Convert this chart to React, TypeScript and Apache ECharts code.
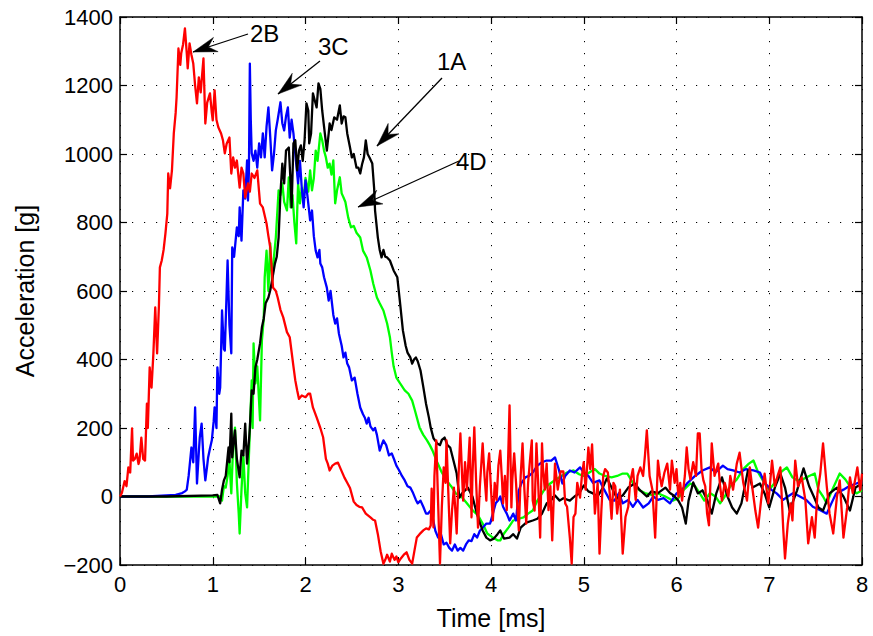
import React, { useEffect, useRef } from "react";
import * as echarts from "echarts";

// ---------- data ----------
const xTicks = [0, 1, 2, 3, 4, 5, 6, 7, 8];
const yTicks = [-200, 0, 200, 400, 600, 800, 1000, 1200, 1400];
const seriesNames = ["1A", "2B", "3C", "4D"];

// 2B (red)
const red2B: number[][] = [
  [0, 0], [0.02, 10], [0.05, 45], [0.07, 30], [0.09, 85], [0.11, 70], [0.13, 199], [0.14, 105], [0.16, 110], [0.18, 125],
  [0.2, 95], [0.21, 105], [0.23, 172], [0.25, 110], [0.27, 105], [0.29, 271], [0.3, 200], [0.32, 377], [0.34, 318], [0.36, 418],
  [0.38, 552], [0.4, 418], [0.42, 560], [0.43, 669], [0.45, 689], [0.47, 720], [0.49, 768], [0.51, 826], [0.52, 943], [0.54, 900],
  [0.56, 952], [0.58, 1060], [0.6, 1120], [0.61, 1165], [0.63, 1308], [0.65, 1260], [0.66, 1294], [0.68, 1320], [0.7, 1367], [0.72, 1294],
  [0.73, 1250], [0.75, 1323], [0.77, 1290], [0.79, 1264], [0.81, 1200], [0.83, 1148], [0.85, 1224], [0.87, 1180], [0.9, 1279], [0.92, 1089],
  [0.94, 1150], [0.97, 1177], [0.99, 1120], [1.0, 1098], [1.02, 1186], [1.04, 1100], [1.06, 1078], [1.09, 1060], [1.11, 1040], [1.13, 1002],
  [1.15, 1030], [1.18, 1048], [1.2, 943], [1.22, 990], [1.24, 960], [1.26, 981], [1.29, 902], [1.31, 960], [1.33, 943], [1.35, 873],
  [1.38, 914], [1.4, 890], [1.42, 943], [1.45, 930], [1.48, 952], [1.51, 855], [1.54, 844], [1.58, 797], [1.6, 760], [1.62, 727],
  [1.65, 610], [1.68, 600], [1.7, 581], [1.73, 545], [1.76, 523], [1.8, 480], [1.83, 465], [1.87, 380], [1.89, 339], [1.91, 310],
  [1.93, 285], [1.96, 295], [2.0, 290], [2.03, 300], [2.05, 300], [2.08, 260], [2.12, 231], [2.16, 200], [2.19, 173], [2.22, 110],
  [2.24, 96], [2.26, 76], [2.29, 90], [2.32, 96], [2.35, 99], [2.38, 80], [2.42, 55], [2.45, 40], [2.48, 25], [2.52, -15],
  [2.55, -25], [2.58, -30], [2.61, -32], [2.65, -50], [2.7, -61], [2.73, -68], [2.75, -70], [2.78, -110], [2.81, -160], [2.84, -196],
  [2.86, -185], [2.88, -170], [2.91, -190], [2.93, -167], [2.96, -185], [2.98, -175], [3.0, -192], [3.03, -180], [3.06, -170], [3.09, -163],
  [3.12, -185], [3.15, -196], [3.18, -150], [3.2, -120], [3.23, -110], [3.27, -99], [3.3, -93], [3.33, -96], [3.35, -85],
  [3.36, 23], [3.38, -90], [3.39, 60], [3.41, 164], [3.43, -20], [3.45, -196], [3.47, -30], [3.49, 85], [3.51, 40], [3.52, 164],
  [3.54, 10], [3.56, -137], [3.58, -40], [3.6, 26], [3.62, -60], [3.63, -108], [3.65, 60], [3.67, 184], [3.69, 50], [3.7, -12],
  [3.72, 100], [3.74, 20], [3.77, 172], [3.79, -61], [3.8, 60], [3.82, 202], [3.84, 40], [3.86, -91], [3.88, 30], [3.91, 155],
  [3.93, 60], [3.95, -12], [3.96, 70], [3.98, 126], [4.0, 20], [4.02, -70], [4.04, 40], [4.06, -10], [4.08, 90], [4.1, 134],
  [4.12, 40], [4.13, -20], [4.15, 60], [4.17, -40], [4.2, 266], [4.22, -32], [4.23, 50], [4.25, 126], [4.27, 40], [4.28, -12],
  [4.3, -99], [4.32, 60], [4.34, 155], [4.36, 20], [4.38, -79], [4.4, 40], [4.42, 105], [4.44, 164], [4.45, -12], [4.47, -41],
  [4.49, 155], [4.51, 30], [4.53, -120], [4.55, 155], [4.56, 85], [4.58, 20], [4.6, 96], [4.62, -40], [4.64, 30], [4.66, -128],
  [4.69, 96], [4.72, 20], [4.75, 73], [4.78, 73], [4.8, -20], [4.82, -30], [4.85, -120], [4.87, -196], [4.89, -60], [4.91, -50],
  [4.93, 40], [4.96, -3], [4.98, 60], [5.0, 100], [5.02, 20], [5.05, 143], [5.07, 80], [5.09, 152], [5.12, -50], [5.15, 40],
  [5.17, -167], [5.19, -40], [5.21, 60], [5.23, 80], [5.26, 70], [5.28, 10], [5.3, -65], [5.32, 40], [5.34, 30], [5.36, -50],
  [5.39, 20], [5.42, -167], [5.45, -60], [5.48, -30], [5.5, 40], [5.53, 80], [5.56, -10], [5.58, 60], [5.61, 85], [5.64, 60],
  [5.66, 120], [5.68, 193], [5.71, 60], [5.74, 20], [5.77, -120], [5.8, 105], [5.82, 60], [5.84, 30], [5.87, 70], [5.9, 96],
  [5.93, 20], [5.95, 105], [5.98, 40], [6.0, 80], [6.02, 0], [6.04, 40], [6.06, -12], [6.09, 60], [6.11, 143], [6.13, 80],
  [6.15, 50], [6.18, 100], [6.21, 60], [6.23, 184], [6.25, 184], [6.27, 80], [6.29, 47], [6.31, 30], [6.33, -50], [6.35, -84],
  [6.38, 155], [6.41, 60], [6.45, 96], [6.47, 30], [6.49, -12], [6.52, 40], [6.56, 0], [6.58, 60], [6.61, 20], [6.65, 96],
  [6.68, 128], [6.72, 40], [6.76, -12], [6.79, 85], [6.82, 20], [6.85, -41], [6.88, -91], [6.92, 9], [6.95, 67], [6.99, -20],
  [7.03, 105], [7.06, 30], [7.09, 60], [7.12, 85], [7.15, -91], [7.17, -181], [7.2, -79], [7.23, -20], [7.25, -70], [7.28, 105],
  [7.31, 30], [7.35, 56], [7.39, -12], [7.42, -137], [7.46, -60], [7.49, -120], [7.52, 10], [7.55, 67], [7.58, 155], [7.62, 30],
  [7.65, -50], [7.69, -108], [7.73, 0], [7.76, 47], [7.8, -120], [7.84, -32], [7.87, 56], [7.9, 10], [7.95, 85], [7.98, 18], [8.0, 67],
];

// 3C (blue)
const blue3C: number[][] = [
  [0, 0], [0.3, 0], [0.5, 3], [0.6, 5], [0.67, 10], [0.7, 15], [0.72, 20], [0.74, 60], [0.77, 143], [0.79, 100],
  [0.81, 260], [0.83, 38], [0.85, 130], [0.86, 172], [0.88, 213], [0.9, 110], [0.92, 47], [0.94, 90], [0.95, 114], [0.97, 140],
  [0.99, 164], [1.01, 220], [1.02, 260], [1.04, 200], [1.05, 377], [1.07, 300], [1.08, 318], [1.1, 543], [1.12, 430], [1.13, 426],
  [1.15, 600], [1.16, 689], [1.18, 500], [1.2, 418], [1.21, 727], [1.23, 700], [1.26, 786], [1.28, 760], [1.29, 844], [1.31, 747],
  [1.33, 894], [1.35, 870], [1.37, 981], [1.38, 864], [1.39, 950], [1.4, 1264], [1.41, 1100], [1.42, 1002], [1.44, 980], [1.46, 1010],
  [1.48, 960], [1.5, 1031], [1.52, 990], [1.54, 1060], [1.56, 990], [1.58, 1080], [1.6, 1136], [1.62, 1050], [1.64, 952], [1.66, 1000],
  [1.68, 1069], [1.7, 1100], [1.73, 1151], [1.75, 1090], [1.77, 1069], [1.79, 1110], [1.81, 1136], [1.83, 1048], [1.85, 1100], [1.87, 1060],
  [1.89, 1000], [1.92, 914], [1.94, 980], [1.96, 900], [1.98, 844], [2.0, 923], [2.02, 880], [2.05, 806], [2.07, 835], [2.09, 760],
  [2.11, 718], [2.13, 698], [2.15, 720], [2.16, 680], [2.18, 669], [2.2, 640], [2.23, 610], [2.25, 572], [2.27, 600], [2.3, 530],
  [2.32, 505], [2.34, 520], [2.36, 476], [2.39, 440], [2.41, 406], [2.43, 420], [2.45, 388], [2.47, 377], [2.5, 339], [2.53, 347],
  [2.56, 300], [2.59, 260], [2.62, 240], [2.64, 230], [2.66, 213], [2.68, 230], [2.7, 205], [2.73, 193], [2.75, 200], [2.77, 180],
  [2.8, 134], [2.82, 150], [2.84, 164], [2.87, 150], [2.9, 120], [2.93, 126], [2.96, 105], [2.98, 90], [3.01, 76], [3.04, 60],
  [3.07, 47], [3.1, 30], [3.13, 26], [3.16, 10], [3.19, -10], [3.21, -20], [3.24, -12], [3.27, -30], [3.3, -50], [3.32, -50],
  [3.35, -41], [3.37, -60], [3.4, -100], [3.43, -120], [3.46, -110], [3.49, -140], [3.52, -135], [3.55, -150], [3.58, -158], [3.61, -140],
  [3.64, -158], [3.67, -150], [3.7, -158], [3.73, -140], [3.76, -128], [3.79, -130], [3.82, -110], [3.85, -120], [3.88, -100], [3.91, -91],
  [3.95, -79], [3.99, -79], [4.02, -50], [4.05, -20], [4.08, -10], [4.1, 0], [4.13, -30], [4.17, -50], [4.2, -70], [4.24, -50],
  [4.27, -70], [4.3, 18], [4.33, 40], [4.37, 56], [4.41, 60], [4.45, 70], [4.5, 90], [4.55, 100], [4.6, 105], [4.65, 105],
  [4.69, 114], [4.73, 80], [4.77, 38], [4.8, 60], [4.85, 76], [4.9, 70], [4.96, 85], [5.0, 70], [5.05, 60], [5.1, 40],
  [5.17, 47], [5.22, 20], [5.28, -10], [5.33, -12], [5.38, 10], [5.42, -20], [5.48, -10], [5.53, -30], [5.58, -10], [5.64, -32],
  [5.7, -20], [5.75, 0], [5.8, -10], [5.86, -5], [5.93, -20], [6.0, 9], [6.06, 20], [6.12, 40], [6.2, 60], [6.28, 76],
  [6.36, 85], [6.42, 70], [6.5, 90], [6.55, 80], [6.61, 76], [6.68, 70], [6.75, 80], [6.83, 76], [6.9, 70], [6.95, 40],
  [7.02, 20], [7.08, 9], [7.15, -10], [7.2, 0], [7.26, 10], [7.33, 0], [7.4, -10], [7.47, -30], [7.55, -40], [7.62, -50],
  [7.67, -20], [7.72, 9], [7.8, 20], [7.86, 30], [7.94, 38], [8.0, 45],
];

// 1A (black)
const black1A: number[][] = [
  [0, 0], [0.5, 0], [1.0, 3], [1.05, 5], [1.08, -20], [1.1, 20], [1.12, 47], [1.14, 60], [1.17, 143], [1.18, 100],
  [1.2, 242], [1.21, 114], [1.23, 170], [1.24, 193], [1.26, 110], [1.29, 56], [1.31, 134], [1.33, 120], [1.35, 213], [1.37, 96],
  [1.39, 160], [1.4, 201], [1.42, 310], [1.44, 300], [1.46, 377], [1.48, 400], [1.51, 447], [1.53, 494], [1.55, 520], [1.57, 564],
  [1.6, 581], [1.62, 602], [1.64, 631], [1.67, 680], [1.69, 700], [1.71, 756], [1.73, 885], [1.75, 972], [1.77, 914], [1.79, 1010],
  [1.82, 1019], [1.84, 914], [1.85, 844], [1.87, 1031], [1.89, 1040], [1.91, 952], [1.93, 1010], [1.95, 1025], [1.97, 980], [1.99, 1040],
  [2.01, 1148], [2.03, 1127], [2.04, 1031], [2.06, 1060], [2.08, 1177], [2.1, 1156], [2.12, 1136], [2.14, 1206], [2.16, 1190], [2.18, 1127],
  [2.2, 1080], [2.23, 1010], [2.25, 1060], [2.26, 1089], [2.28, 1070], [2.31, 1107], [2.34, 1100], [2.37, 1142], [2.39, 1089], [2.41, 1110],
  [2.43, 1107], [2.45, 1060], [2.48, 1019], [2.5, 990], [2.52, 1000], [2.55, 960], [2.57, 960], [2.59, 943], [2.61, 970], [2.63, 990],
  [2.65, 1040], [2.67, 1000], [2.69, 990], [2.72, 972], [2.74, 900], [2.75, 835], [2.78, 756], [2.8, 720], [2.82, 698], [2.84, 720],
  [2.86, 700], [2.88, 698], [2.91, 689], [2.95, 660], [2.99, 640], [3.02, 564], [3.05, 485], [3.08, 440], [3.1, 420], [3.13, 406],
  [3.15, 388], [3.17, 400], [3.19, 406], [3.21, 395], [3.24, 368], [3.27, 320], [3.3, 270], [3.33, 231], [3.35, 201], [3.38, 170],
  [3.42, 155], [3.45, 150], [3.47, 165], [3.5, 172], [3.53, 150], [3.56, 143], [3.6, 100], [3.63, 67], [3.66, -3], [3.69, 10],
  [3.72, 18], [3.75, 26], [3.78, 10], [3.8, 0], [3.83, -32], [3.87, -70], [3.91, -99], [3.95, -120], [3.99, -128], [4.03, -123],
  [4.07, -110], [4.1, -99], [4.14, -123], [4.2, -120], [4.24, -110], [4.28, -123], [4.32, -91], [4.38, -76], [4.45, -70], [4.5, -65],
  [4.55, -50], [4.6, -20], [4.65, -10], [4.69, 3], [4.74, -12], [4.78, -5], [4.85, -12], [4.9, 0], [4.95, 9], [5.0, 32],
  [5.05, 15], [5.1, 9], [5.15, 0], [5.2, 23], [5.25, 53], [5.3, 26], [5.36, -6], [5.42, 3], [5.48, 26], [5.55, 38],
  [5.6, 20], [5.68, 0], [5.73, 15], [5.8, 10], [5.88, 26], [5.93, 10], [5.97, 3], [6.02, -12], [6.06, -32], [6.1, -79],
  [6.13, -12], [6.18, 41], [6.23, 9], [6.28, 18], [6.33, -10], [6.38, -50], [6.43, 10], [6.49, 56], [6.55, 0], [6.6, -32],
  [6.65, -50], [6.7, -20], [6.77, 76], [6.82, 26], [6.9, 38], [6.95, 9], [7.0, -32], [7.06, 26], [7.12, 67], [7.17, 26],
  [7.22, -41], [7.3, 18], [7.37, 82], [7.43, 30], [7.48, 0], [7.53, -32], [7.58, -41], [7.65, 9], [7.73, 26], [7.8, 0],
  [7.87, -41], [7.93, 26], [8.0, 38],
];

// 4D (green)
const green4D: number[][] = [
  [0, 0], [0.5, 0], [1.0, 0], [1.08, 0], [1.1, -12], [1.12, 30], [1.14, 26], [1.16, 60], [1.18, 105], [1.2, 9],
  [1.22, 150], [1.24, 201], [1.26, 40], [1.28, -50], [1.29, -108], [1.31, 20], [1.33, 120], [1.35, 9], [1.37, -32], [1.39, 120],
  [1.42, 339], [1.43, 200], [1.44, 447], [1.46, 330], [1.48, 380], [1.51, 222], [1.53, 456], [1.55, 520], [1.56, 640], [1.58, 718],
  [1.6, 600], [1.62, 739], [1.64, 622], [1.66, 700], [1.68, 756], [1.71, 894], [1.73, 880], [1.75, 914], [1.77, 860], [1.8, 835],
  [1.82, 932], [1.84, 844], [1.86, 880], [1.88, 800], [1.9, 739], [1.92, 914], [1.94, 856], [1.96, 900], [1.98, 870], [2.0, 930],
  [2.03, 890], [2.05, 952], [2.07, 894], [2.09, 930], [2.11, 1010], [2.13, 980], [2.16, 1060], [2.18, 1040], [2.2, 1010], [2.22, 990],
  [2.24, 960], [2.26, 972], [2.28, 940], [2.3, 981], [2.32, 856], [2.34, 894], [2.37, 932], [2.39, 885], [2.41, 873], [2.43, 860],
  [2.46, 815], [2.49, 786], [2.52, 790], [2.55, 770], [2.59, 756], [2.62, 718], [2.66, 698], [2.7, 660], [2.73, 622], [2.77, 581],
  [2.8, 564], [2.84, 543], [2.88, 505], [2.91, 465], [2.93, 420], [2.95, 380], [2.98, 347], [3.02, 330], [3.07, 310], [3.11, 300],
  [3.15, 280], [3.18, 251], [3.23, 201], [3.27, 180], [3.31, 164], [3.34, 150], [3.37, 134], [3.42, 100], [3.47, 70], [3.52, 47],
  [3.57, 30], [3.62, 9], [3.68, 0], [3.74, -20], [3.8, -40], [3.86, -55], [3.91, -79], [3.96, -108], [4.02, -120], [4.07, -128],
  [4.1, -128], [4.14, -108], [4.19, -90], [4.24, -70], [4.3, -65], [4.35, -61], [4.4, -50], [4.45, -41], [4.5, -12], [4.55, 9],
  [4.6, 30], [4.65, 40], [4.7, 50], [4.76, 60], [4.82, 70], [4.89, 76], [4.95, 65], [5.0, 60], [5.06, 70], [5.12, 80],
  [5.17, 67], [5.23, 60], [5.3, 56], [5.36, 60], [5.42, 67], [5.47, 67], [5.53, 40], [5.6, 18], [5.66, 10], [5.73, 5],
  [5.8, 9], [5.88, 0], [5.96, -12], [6.02, -5], [6.08, 20], [6.15, 38], [6.2, 30], [6.25, 10], [6.3, -12], [6.36, 10],
  [6.42, 0], [6.47, -20], [6.52, 0], [6.58, 30], [6.65, 50], [6.72, 80], [6.78, 96], [6.83, 105], [6.88, 70], [6.95, 38],
  [7.0, 20], [7.06, 40], [7.12, 70], [7.19, 85], [7.25, 56], [7.3, 47], [7.36, 50], [7.43, 60], [7.49, 67], [7.53, 20],
  [7.58, 0], [7.62, -20], [7.68, 20], [7.76, 67], [7.82, 50], [7.88, 26], [7.94, 9], [8.0, 18],
];

// annotation labels: text position and arrow start/tip, in page pixels
const annotations: { label: string; tx: number; ty: number; sx: number; sy: number; ex: number; ey: number }[] = [
  { label: "2B", tx: 250, ty: 33, sx: 248, sy: 34, ex: 193, ey: 52 },
  { label: "3C", tx: 318, ty: 46, sx: 320, sy: 61, ex: 278, ey: 94 },
  { label: "1A", tx: 437, ty: 61, sx: 442, sy: 78, ex: 377, ey: 146 },
  { label: "4D", tx: 456, ty: 161, sx: 459, sy: 161, ex: 358, ey: 207 },
];

const FONT = "'Liberation Sans', Arial, Helvetica, sans-serif";

function arrowHead(sx: number, sy: number, ex: number, ey: number) {
  const dx = sx - ex;
  const dy = sy - ey;
  const len = Math.sqrt(dx * dx + dy * dy);
  const ux = dx / len;
  const uy = dy / len;
  const px = -uy;
  const py = ux;
  const L = 24;
  const W = 7.5;
  const N = 16;
  return [
    [ex, ey],
    [ex + ux * L + px * W, ey + uy * L + py * W],
    [ex + ux * N, ey + uy * N],
    [ex + ux * L - px * W, ey + uy * L - py * W],
  ];
}

export default function App() {
  const ref = useRef<HTMLDivElement>(null);
  useEffect(() => {
    if (!ref.current) return;
    const chart = echarts.init(ref.current, undefined, { renderer: "svg" });

    const graphics: any[] = [];
    annotations.forEach((a) => {
      graphics.push({
        type: "line",
        shape: { x1: a.sx, y1: a.sy, x2: a.ex, y2: a.ey },
        style: { stroke: "#000", lineWidth: 1.3 },
        z: 100,
      });
      graphics.push({
        type: "polygon",
        shape: { points: arrowHead(a.sx, a.sy, a.ex, a.ey) },
        style: { fill: "#000", stroke: "#000", lineWidth: 0.5 },
        z: 100,
      });
      graphics.push({
        type: "text",
        x: a.tx,
        y: a.ty,
        style: {
          text: a.label,
          fill: "#000",
          font: `24px ${FONT}`,
          verticalAlign: "middle",
        },
        z: 100,
      });
    });

    const axisCommon = {
      type: "value" as const,
      axisLine: { show: true, onZero: false, lineStyle: { color: "#000", width: 1.5 } },
      axisTick: { show: true, inside: true, length: 7, lineStyle: { color: "#000", width: 1.2 } },
    };

    const colors: Record<string, string> = { "1A": "#000000", "2B": "#ff0000", "3C": "#0000ff", "4D": "#00ff00" };
    const dataBy: Record<string, number[][]> = { "1A": black1A, "2B": red2B, "3C": blue3C, "4D": green4D };
    const drawOrder = ["4D", "3C", "1A", "2B"];

    chart.setOption({
      animation: false,
      backgroundColor: "#ffffff",
      grid: { left: 120, top: 17, width: 742, height: 548, containLabel: false },
      xAxis: [
        {
          ...axisCommon,
          position: "bottom",
          min: xTicks[0],
          max: xTicks[xTicks.length - 1],
          interval: 1,
          axisLabel: { color: "#000", fontSize: 22, fontFamily: FONT, margin: 8 },
          splitLine: { show: true, lineStyle: { color: "#000", width: 1, type: [1.2, 10.8] } },
          name: "Time [ms]",
          nameLocation: "middle",
          nameGap: 40,
          nameTextStyle: { color: "#000", fontSize: 25, fontFamily: FONT, verticalAlign: "top" },
        },
        {
          ...axisCommon,
          position: "top",
          min: xTicks[0],
          max: xTicks[xTicks.length - 1],
          interval: 1,
          axisLabel: { show: false },
          splitLine: { show: false },
        },
      ],
      yAxis: [
        {
          ...axisCommon,
          position: "left",
          min: yTicks[0],
          max: yTicks[yTicks.length - 1],
          interval: 200,
          axisLabel: {
            color: "#000",
            fontSize: 22,
            fontFamily: FONT,
            margin: 7,
            formatter: (v: number) => (v < 0 ? "\u2212" + Math.abs(v) : String(v)),
          },
          splitLine: { show: true, lineStyle: { color: "#000", width: 1, type: [1.2, 10.8] } },
          name: "Acceleration [g]",
          nameLocation: "middle",
          nameGap: 83,
          nameTextStyle: { color: "#000", fontSize: 25, fontFamily: FONT },
        },
        {
          ...axisCommon,
          position: "right",
          min: yTicks[0],
          max: yTicks[yTicks.length - 1],
          interval: 200,
          axisLabel: { show: false },
          splitLine: { show: false },
        },
      ],
      series: drawOrder.map((k) => ({
        name: k,
        type: "line",
        xAxisIndex: 0,
        yAxisIndex: 0,
        data: dataBy[k],
        showSymbol: false,
        symbol: "none",
        clip: true,
        lineStyle: { color: colors[k], width: 2.3, join: "round" },
        itemStyle: { color: colors[k] },
      })),
      graphic: graphics,
    });

    return () => chart.dispose();
  }, []);

  return (
    <div
      ref={ref}
      style={{ position: "fixed", left: 0, top: 0, width: 873, height: 636, background: "#fff" }}
      data-series={seriesNames.join(",")}
    />
  );
}
